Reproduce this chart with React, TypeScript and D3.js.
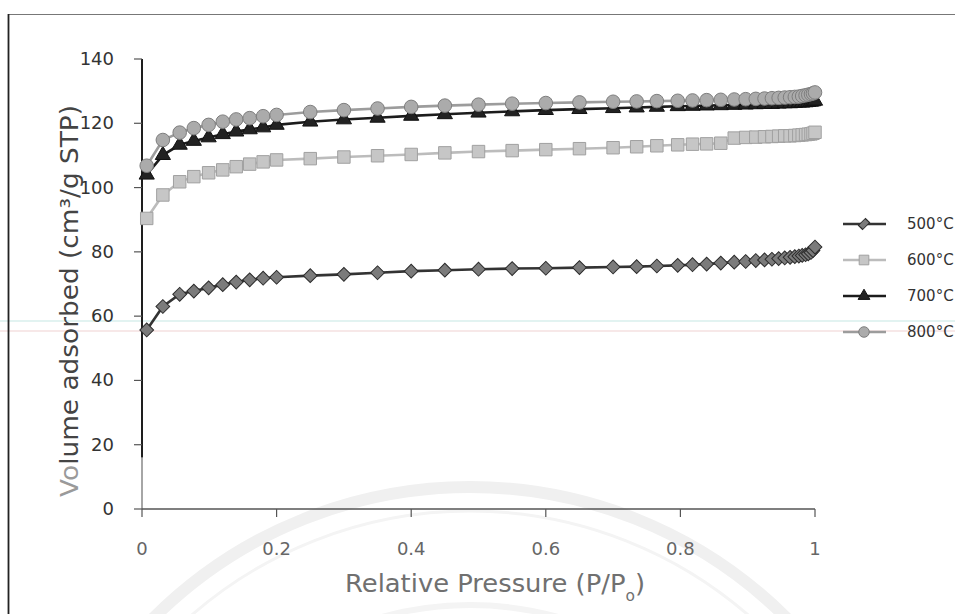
import React from 'react';
import * as d3 from 'd3';

// relative pressure P/Po shared by all four isotherms
const pressure = [0.007, 0.031, 0.056, 0.077, 0.099, 0.12, 0.14, 0.16, 0.18, 0.2,
  0.25, 0.3, 0.35, 0.4, 0.45, 0.5, 0.55, 0.6, 0.65, 0.7,
  0.735, 0.765, 0.796, 0.818, 0.839, 0.86, 0.88, 0.897, 0.912, 0.925,
  0.936, 0.946, 0.955, 0.963, 0.97, 0.976, 0.981, 0.986, 0.99, 0.994,
  0.997, 1.0];

// volume adsorbed (cm3/g STP)
const v500 = [55.7, 63, 66.8, 67.8, 68.8, 69.8, 70.6, 71.3, 71.8, 72.1,
  72.6, 73, 73.5, 74, 74.3, 74.6, 74.8, 74.9, 75.1, 75.3,
  75.4, 75.6, 75.8, 76, 76.2, 76.5, 76.8, 77, 77.3, 77.5,
  77.7, 77.9, 78.1, 78.3, 78.5, 78.7, 78.9, 79.1, 79.4, 79.8,
  80.4, 81.5];
const v600 = [90.4, 97.7, 101.8, 103.4, 104.6, 105.5, 106.5, 107.3, 108, 108.6,
  109, 109.5, 109.9, 110.3, 110.8, 111.2, 111.5, 111.8, 112.1, 112.4,
  112.7, 113, 113.3, 113.5, 113.6, 113.8, 115.4, 115.6, 115.7, 115.8,
  115.9, 116, 116.1, 116.1, 116.2, 116.3, 116.4, 116.5, 116.6, 116.7,
  116.9, 117.2];
const v700 = [104, 110.1, 113.3, 114.5, 115.6, 116.6, 117.4, 118.1, 118.7, 119.5,
  120.5, 121.2, 121.7, 122.3, 122.8, 123.3, 123.7, 124.1, 124.4, 124.7,
  124.9, 125.1, 125.3, 125.4, 125.5, 125.6, 125.7, 125.8, 125.9, 126,
  126, 126.1, 126.2, 126.2, 126.3, 126.4, 126.4, 126.5, 126.6, 126.7,
  126.8, 127];
const v800 = [106.8, 114.8, 117.1, 118.5, 119.5, 120.5, 121.2, 121.6, 122.2, 122.6,
  123.5, 124.1, 124.6, 125.1, 125.5, 125.8, 126.1, 126.3, 126.5, 126.7,
  126.8, 126.9, 127, 127.1, 127.2, 127.3, 127.4, 127.5, 127.6, 127.7,
  127.8, 127.9, 128, 128.1, 128.2, 128.3, 128.5, 128.7, 128.9, 129.1,
  129.3, 129.6];
// the curves start on the axis itself, so it looks dark down to about this value
const axisDarkFrom = 16;

const seriesNames = ['500°C', '600°C', '700°C', '800°C'];
const xTicks = [0, 0.2, 0.4, 0.6, 0.8, 1];
const yTicks = [0, 20, 40, 60, 80, 100, 120, 140];

const width = 955;
const height = 614;
const font = '"DejaVu Sans", Verdana, sans-serif';

function markerPath(shape: string, k = 1) {
  const type = shape === 'circle' ? d3.symbolCircle : shape === 'triangle' ? d3.symbolTriangle : d3.symbolSquare;
  const size = ({ diamond: 95, square: 155, triangle: 100, circle: 145 } as any)[shape] * k;
  return d3.symbol().type(type).size(size)() as string;
}

export default function App() {
  const x = d3.scaleLinear().domain([0, 1]).range([142, 815]);
  const y = d3.scaleLinear().domain([0, 140]).range([509, 59]);
  const line = d3.line<[number, number]>().x(d => x(d[0])).y(d => y(d[1]));

  const series = [
    { name: seriesNames[0], values: v500, line: '#333333', fill: '#7b7b7b', stroke: '#2c2c2c', shape: 'diamond' },
    { name: seriesNames[1], values: v600, line: '#bcbcbc', fill: '#c6c6c6', stroke: '#a0a0a0', shape: 'square' },
    { name: seriesNames[2], values: v700, line: '#1c1c1c', fill: '#222222', stroke: '#111111', shape: 'triangle' },
    { name: seriesNames[3], values: v800, line: '#9c9c9c', fill: '#ababab', stroke: '#7e7e7e', shape: 'circle' },
  ];

  return (
    <svg width={width} height={height} style={{ position: 'absolute', left: 0, top: 0, background: '#fff' }}>
      {/* faint watermark rings and scanner streaks */}
      <g fill="none">
        <circle cx={470} cy={935} r={448} stroke="#f0f0f0" strokeWidth={12} />
        <circle cx={470} cy={935} r={424} stroke="#f4f4f4" strokeWidth={3} />
        <circle cx={470} cy={935} r={330} stroke="#f4f4f4" strokeWidth={6} />
      </g>
      <line x1={0} x2={width} y1={321} y2={321} stroke="#d9efec" strokeWidth={1.5} />
      <line x1={0} x2={width} y1={331} y2={331} stroke="#f5e1e1" strokeWidth={1.5} />

      {/* frame */}
      <line x1={8} x2={width} y1={14.5} y2={14.5} stroke="#777" strokeWidth={1.2} />
      <line x1={8.5} x2={8.5} y1={14} y2={height} stroke="#222" strokeWidth={1.8} />

      {/* axes */}
      <line x1={x(0)} x2={x(0)} y1={y(axisDarkFrom)} y2={y(0)} stroke="#888" strokeWidth={1.5} />
      <line x1={x(0)} x2={x(0)} y1={y(140)} y2={y(axisDarkFrom)} stroke="#1e1e1e" strokeWidth={2} />
      <line x1={x(0)} x2={x(1)} y1={y(0)} y2={y(0)} stroke="#555" strokeWidth={1.3} />
      <g fontFamily={font} fontSize={18}>
        {yTicks.map(t => (
          <g key={t}>
            <line x1={x(0) - 8} x2={x(0)} y1={y(t)} y2={y(t)} stroke="#555" strokeWidth={1.2} />
            <text x={114} y={y(t) + 6} textAnchor="end" fill="#333">{t}</text>
          </g>
        ))}
        {xTicks.map(t => (
          <g key={t}>
            <line x1={x(t)} x2={x(t)} y1={y(0)} y2={y(0) + 8} stroke="#555" strokeWidth={1.2} />
            <text x={x(t)} y={555} textAnchor="middle" fill="#666">{t}</text>
          </g>
        ))}
      </g>

      {/* axis titles */}
      <text transform="translate(78,301) rotate(-90)" textAnchor="middle" fontFamily={font} fontSize={25}
        textLength={392} lengthAdjust="spacingAndGlyphs">
        <tspan fill="#9a9a9a">Vo</tspan>
        <tspan fill="#444">lume adsorbed (cm³/g STP)</tspan>
      </text>
      <text x={495} y={592} textAnchor="middle" fontFamily={font} fontSize={25} fill="#707070"
        textLength={300} lengthAdjust="spacingAndGlyphs">
        Relative Pressure (P/P<tspan dy={9} fontSize={15}>o</tspan><tspan dy={-9}>)</tspan>
      </text>

      {/* isotherms */}
      {series.map(s => {
        const pts: [number, number][] = pressure.map((p, i) => [p, s.values[i]]);
        const mk = markerPath(s.shape);
        return (
          <g key={s.name}>
            <path d={line(pts) || ''} fill="none" stroke={s.line} strokeWidth={2.6} />
            {pts.map(([p, v], i) => (
              <path key={i} d={mk} fill={s.fill} stroke={s.stroke} strokeWidth={1}
                transform={`translate(${x(p)},${y(v)})${s.shape === 'diamond' ? ' rotate(45)' : ''}`} />
            ))}
          </g>
        );
      })}

      {/* legend */}
      <g fontFamily={font} fontSize={15}>
        {series.map((s, i) => {
          const ly = 224 + i * 36;
          return (
            <g key={s.name}>
              <line x1={843} x2={886} y1={ly} y2={ly} stroke={s.line} strokeWidth={2.5} />
              <path d={markerPath(s.shape, 0.6)} fill={s.fill} stroke={s.stroke} strokeWidth={1}
                transform={`translate(864,${ly})${s.shape === 'diamond' ? ' rotate(45) scale(0.8,1.3)' : ''}`} />
              <text x={907} y={ly + 5} fill="#333">{s.name}</text>
            </g>
          );
        })}
      </g>
    </svg>
  );
}
